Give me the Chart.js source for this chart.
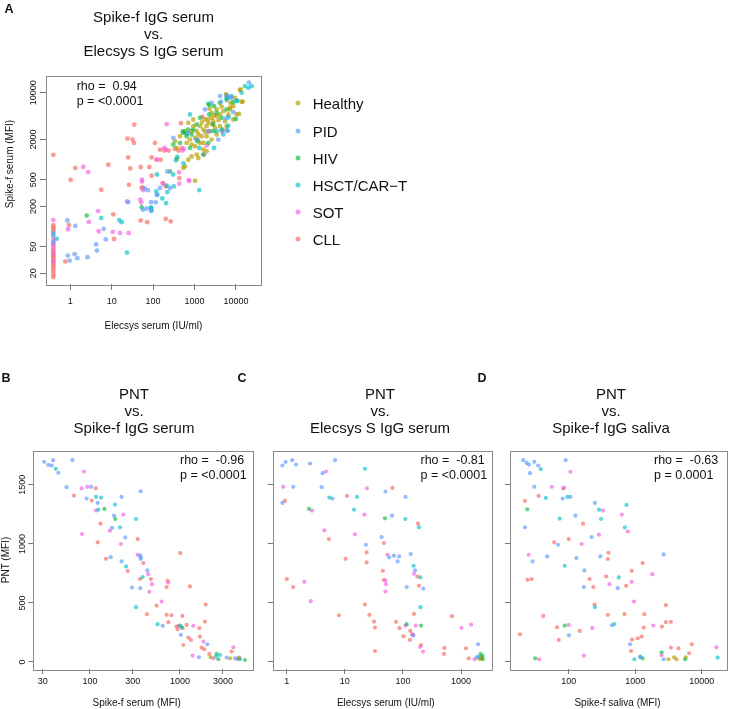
<!DOCTYPE html>
<html>
<head>
<meta charset="utf-8">
<script src="https://cdn.jsdelivr.net/npm/chart.js@4.4.1/dist/chart.umd.min.js"></script>
<style>
  html, body { margin: 0; padding: 0; background: #fff; }
  #page { position: relative; width: 729px; height: 709px; overflow: hidden;
          font-family: "Liberation Sans", Arial, Helvetica, sans-serif; color: #111; }
  #page canvas { position: absolute; left: 0; top: 0; }
  .c { position: absolute; white-space: pre; line-height: 1; transform: translate(-50%, -50%); }
  .lt { position: absolute; white-space: pre; line-height: 1; transform: translate(0, -50%); }
  .r { position: absolute; white-space: pre; line-height: 1; transform: translate(-50%, -50%) rotate(-90deg); }
  .title { font-size: 15px; }
  .ann { font-size: 12.5px; }
  .lab { font-size: 10px; }
  .leg { font-size: 15px; }
  .letter { font-size: 12.5px; font-weight: bold; }
  .dot { position: absolute; width: 5px; height: 5px; border-radius: 50%; transform: translate(-50%, -50%); }
</style>
</head>
<body>
<div id="page">
  <canvas id="pA" width="729" height="709"></canvas>
  <canvas id="pB" width="729" height="709"></canvas>
  <canvas id="pC" width="729" height="709"></canvas>
  <canvas id="pD" width="729" height="709"></canvas>

  <div class="c letter" style="left:9px;top:9px">A</div>
  <div class="c letter" style="left:6px;top:378px">B</div>
  <div class="c letter" style="left:242px;top:378px">C</div>
  <div class="c letter" style="left:482px;top:378px">D</div>

  <div class="c title" style="left:153.5px;top:16px">Spike-f IgG serum</div>
  <div class="c title" style="left:153.5px;top:33px">vs.</div>
  <div class="c title" style="left:153.5px;top:50px">Elecsys S IgG serum</div>

  <div class="c title" style="left:134px;top:393px">PNT</div>
  <div class="c title" style="left:134px;top:410px">vs.</div>
  <div class="c title" style="left:134px;top:427px">Spike-f IgG serum</div>

  <div class="c title" style="left:380px;top:393px">PNT</div>
  <div class="c title" style="left:380px;top:410px">vs.</div>
  <div class="c title" style="left:380px;top:427px">Elecsys S IgG serum</div>

  <div class="c title" style="left:611px;top:393px">PNT</div>
  <div class="c title" style="left:611px;top:410px">vs.</div>
  <div class="c title" style="left:611px;top:427px">Spike-f IgG saliva</div>

  <div class="lt ann" style="left:76.7px;top:86px">rho =  0.94</div>
  <div class="lt ann" style="left:76.7px;top:101px">p = &lt;0.0001</div>
  <div class="lt ann" style="left:180px;top:460px">rho =  -0.96</div>
  <div class="lt ann" style="left:180px;top:475px">p = &lt;0.0001</div>
  <div class="lt ann" style="left:420.5px;top:460px">rho =  -0.81</div>
  <div class="lt ann" style="left:420.5px;top:475px">p = &lt;0.0001</div>
  <div class="lt ann" style="left:654px;top:460px">rho =  -0.63</div>
  <div class="lt ann" style="left:654px;top:475px">p = 0.0001</div>

  <div class="c lab" style="left:153.4px;top:326px">Elecsys serum (IU/ml)</div>
  <div class="r lab" style="left:10px;top:164px">Spike-f serum (MFI)</div>
  <div class="r lab" style="left:6px;top:560px">PNT (MFI)</div>
  <div class="c lab" style="left:136.7px;top:703px">Spike-f serum (MFI)</div>
  <div class="c lab" style="left:385.8px;top:703px">Elecsys serum (IU/ml)</div>
  <div class="c lab" style="left:617.5px;top:703px">Spike-f saliva (MFI)</div>

  <div id="legend"></div>
</div>

<script>
// group order as in the legend
const groupNames = ['Healthy', 'PID', 'HIV', 'HSCT/CAR\u2212T', 'SOT', 'CLL'];
const groupColors = ['rgba(183,159,0,0.68)', 'rgba(97,156,255,0.68)', 'rgba(0,186,56,0.62)',
                     'rgba(0,191,196,0.64)', 'rgba(245,100,227,0.68)', 'rgba(248,118,109,0.72)'];

// tick values
const aXTicks = [1, 10, 100, 1000, 10000];
const aYTicks = [20, 50, 200, 500, 2000, 10000];
const bXTicks = [30, 100, 300, 1000, 3000];
const cXTicks = [1, 10, 100, 1000];
const dXTicks = [100, 1000, 10000];
const pntTicks = [0, 500, 1000, 1500];

// ---- A: Spike-f serum (y) vs Elecsys serum (x) ----
const A_Healthy = [[5750,9460],[12500,11000],[13700,7350],[8650,6320],[7190,5640],[4960,5320],[4120,4740],[3430,4480],
  [2590,4230],[2850,3770],[2150,3560],[1960,3170],[1630,2820],[1360,3170],[1130,2670],[1240,2380],[1490,2240],
  [1960,2240],[2360,2670],[3120,2990],[4120,3170],[5440,3770],[6550,4740],[3430,5640],[2590,5020],[1790,3990],
  [935,3170],[853,2670],[1030,2120],[777,2000],[646,1780],[853,1680],[1030,1590],[1360,1780],[1630,1420],
  [1960,1340],[1130,1190],[853,1120],[708,1000],[589,796],[536,752],[935,3990],[708,3560],[589,2670],[446,2240],
  [370,1500],[337,1890],[380,1030],[1240,1060],[1630,1780],[2590,2000],[3430,2380],[4780,2820],[5970,3170],
  [8650,3990],[10400,4740],[7460,7100],[9490,8430],[13000,11300],[14600,7400],[5950,9330],[7260,6080],
  [11800,4840],[1030,484],[2100,4000],[2700,3400],[1500,3600],[3800,3900],[2300,5800],[4500,6200],[1800,2600],
  [1200,2000],[3000,4600]];
const A_PID = [[0.39,80],[0.39,58],[0.85,123],[1.32,102],[0.87,36.7],[1.28,38.5],[1.48,33.6],[0.97,30.9],[2.6,34.8],
  [4.2,54],[4.4,43.6],[6.4,92],[7.2,64],[25,231],[63,373],[75,350],[57,178],[70,186],[90,231],[116,230],[124,298],
  [147,378],[256,377],[92,174],[221,667],[1790,5640],[2590,7100],[4120,8930],[5970,9140],[7190,8630],
  [20700,14200],[3760,2000],[5970,2730],[708,2520],[308,2120],[1130,2000],[2150,2670],[4370,7400],[7600,8400],
  [8700,5130],[5790,4150]];
const A_HIV = [[2.5,146],[53,193],[256,667],[2150,6850],[2960,6320],[4120,7100],[5970,7780],[8650,7260],[3430,5020],
  [4520,4230],[2260,4740],[1360,4230],[935,2820],[708,2820],[536,2520],[646,2240],[777,1500],[446,1780],
  [308,1680],[1170,1890],[2850,3360],[5970,5640],[2150,1780],[1630,1190],[2850,2670],[853,2380],[1130,3360],
  [2290,6600],[6100,8400],[10000,4070],[520,2650],[645,2430]];
const A_HSCT = [[0.39,75],[0.47,65.5],[5.6,134],[15.3,125],[17.4,116],[23.4,40.7],[124,600],[119,335],[90,189],
  [90,172],[305,600],[213,410],[318,398],[126,298],[221,328],[167,263],[205,224],[89,193],[1300,351],[777,4740],
  [6530,3230],[6380,2720],[6660,4310],[10900,7670],[5970,8430],[7880,8930],[10400,7520],[13750,10020],
  [16550,12620],[19900,11900],[24000,12600],[4520,2820],[3430,2670],[4960,2380],[2960,1500],[1300,1500],
  [385,1100],[355,980],[540,880]];
const A_SOT = [[0.39,125],[0.39,68],[0.39,62],[0.39,55],[0.39,48],[0.39,40],[0.39,30],[2.06,777],[2.7,653],
  [4.85,85],[10.6,83],[15.9,80],[25.7,80],[4.7,170],[2.8,117],[0.88,91],[23.4,237],[49,253],[52,228],[54,501],
  [54,470],[58,350],[122,1000],[213,3400],[176,438],[430,438],[750,484],[422,645],[2140,2620],[1970,1630],
  [187,1500],[205,1410],[510,1370],[560,1450],[720,490],[1700,1190],[4560,2650]];
const A_CLL = [[0.39,1180],[0.39,105],[0.39,98],[0.39,92],[0.39,86],[0.39,52],[0.39,45],[0.39,42],[0.39,38],
  [0.39,36],[0.39,34],[0.39,32],[0.39,29],[0.39,27],[0.39,25],[0.39,23],[0.39,21],[0.39,19],[0.39,17.5],
  [1.32,750],[1.02,500],[5.6,355],[8.3,840],[10.9,152],[11.4,65],[0.76,30],[0.93,105],[24,2070],[32,2000],
  [34.5,1780],[35,3350],[25,1080],[28,740],[26,420],[50,777],[81,777],[56,385],[92,1080],[92,575],[111,1780],
  [123,1000],[153,1000],[147,1410],[187,1370],[238,1370],[335,1450],[410,1370],[490,1500],[470,3510],
  [1560,4370],[170,446],[430,531],[50,123],[72,116],[202,130],[266,119],[202,398],[53,377]];

// ---- B: PNT vs Spike-f serum ----
const B_Healthy = [[2193,40],[3600,31],[4450,31]];
const B_PID = [[31,1695],[34.5,1670],[37.6,1664],[39,1709],[44.6,1602],[64,1709],[55,1480],[103,1483],[92,1384],
  [122,1347],[225,1398],[185,1239],[366,1446],[176,1135],[247,1055],[360,903],[368,886],[366,872],[170,888],
  [225,852],[434,775],[293,631],[363,625],[643,306],[1026,229],[1626,40],[2014,150],[3300,37],[4090,31]];
const B_HIV = [[145,1296],[191,1211],[1009,308],[2560,68],[2670,23],[5280,17]];
const B_HSCT = [[41.7,1636],[117,1398],[133,1392],[124,1290],[190,1333],[325,1211],[216,1140],[252,809],
  [385,719],[325,464],[565,320],[1045,294],[2518,48],[2790,59],[4650,23]];
const B_SOT = [[86,1613],[81,1471],[93.5,1483],[117,1282],[235,1248],[167,1112],[81.5,1084],[221,999],[339,908],
  [444,744],[489,659],[743,673],[457,594],[626,512],[959,306],[1406,306],[1383,54],[1828,173],[2350,31],
  [3920,125],[4340,25]];
const B_CLL = [[116,1471],[66.5,1409],[105,1367],[131,1171],[122,1013],[339,1041],[151,874],[392,838],[263,770],
  [360,702],[476,702],[730,688],[711,634],[1010,922],[1290,640],[551,478],[430,405],[1930,487],[711,399],
  [805,396],[1065,390],[743,337],[918,300],[942,277],[1070,286],[1186,314],[1089,144],[1240,207],[1325,187],
  [1667,215],[1640,286],[1862,108],[1743,122],[1897,342],[2118,68],[3750,88],[4570,37]];

// ---- C: PNT vs Elecsys serum ----
const C_Healthy = [[2270,31],[2100,23],[2200,40]];
const C_PID = [[0.84,1664],[0.955,1695],[1.24,1709],[1.44,1672],[2.51,1681],[6.76,1709],[4.15,1599],[1.29,1483],
  [4.0,1480],[50,1443],[0.84,1347],[6.1,1384],[111,1398],[64.8,1239],[43,1058],[23,993],[58,886],[70,900],
  [86,894],[81,852],[136,914],[161,775],[224,622],[116,634],[149,226],[1963,150],[1862,40]];
const C_HIV = [[2.41,1296],[49,1217],[116,320],[205,308],[2180,68],[2360,23],[2360,51]];
const C_HSCT = [[22.2,1636],[16.2,1398],[5.4,1392],[14.4,1290],[110,1211],[189,1140],[153,815],[200,716],
  [200,464],[1990,45]];
const C_SOT = [[4.73,1613],[0.87,1483],[24,1471],[2.72,1282],[21.7,1248],[4.44,1115],[14.9,1081],[54,908],
  [155,747],[50,690],[2.0,679],[51,659],[50,597],[2.58,515],[111,308],[166,308],[1016,289],[1490,317],[151,229],
  [197,127],[222,88],[1720,23]];
const C_CLL = [[66,1474],[0.93,1364],[10.9,1406],[182,1171],[5.3,1041],[47,1007],[23.7,928],[10.3,874],[23.7,843],
  [177,724],[45,772],[47,696],[1.0,702],[1.29,634],[189,645],[22.2,487],[155,407],[7.9,396],[26.4,399],[700,388],
  [31.8,342],[76,340],[33,291],[87,286],[134,263],[144,235],[102,218],[132,187],[205,144],[33,93],[518,119],
  [510,68],[1220,116],[1356,31]];

// ---- D: PNT vs Spike-f saliva ----
const D_Healthy = [[3160,23],[3850,40],[4180,23],[5750,40]];
const D_PID = [[20.7,1709],[23.3,1686],[25.2,1672],[30.3,1695],[34.8,1664],[90,1709],[26.1,1599],[30.3,1483],
  [81,1384],[106,1398],[126,1239],[248,1347],[22,1140],[221,1058],[69,993],[28.6,852],[47.5,894],[130,880],
  [298,894],[2670,911],[172,775],[169,634],[547,625],[445,311],[101,226],[836,150],[2670,23],[1190,40]];
const D_HIV = [[23.8,1293],[87,308],[31.3,31],[1295,31],[2490,82],[5620,23]];
const D_HSCT = [[38.1,1633],[45.3,1389],[95.5,1398],[73,1214],[285,1290],[305,1211],[738,1330],[697,1140],
  [87,815],[566,716],[248,464],[482,320],[970,23],[1190,45],[17340,37]];
const D_SOT = [[106,1610],[55.7,1483],[85,1477],[327,1282],[628,1248],[773,1106],[285,1078],[156,999],[25,908],
  [1807,744],[885,679],[410,659],[960,512],[100,314],[226,286],[1867,308],[169,54],[36,23],[2490,57],[16560,125]];
const D_CLL = [[83,1469],[22,1364],[35.2,1406],[164,1171],[60.4,1013],[100,1041],[396,925],[387,872],[1293,838],
  [885,772],[366,724],[24.1,696],[27.7,702],[206,702],[234,634],[730,645],[2890,481],[1370,405],[245,487],
  [41.3,390],[387,399],[689,405],[66.8,294],[146,263],[1340,291],[2520,300],[2890,337],[3435,340],[18.5,235],
  [70.8,187],[896,190],[1090,201],[1250,215],[865,93],[3435,122],[4470,116],[6460,74],[7080,150]];

const FONT = '"Liberation Sans", Arial, Helvetica, sans-serif';
const AX = 30; // fixed axis band size

const boxPlugin = {
  id: 'box',
  afterDatasetsDraw(chart) {
    const { ctx, chartArea: a } = chart;
    ctx.save();
    ctx.strokeStyle = '#8a8a8a';
    ctx.lineWidth = 1;
    ctx.strokeRect(Math.round(a.left) + 0.5, Math.round(a.top) + 0.5,
                   Math.round(a.right - a.left), Math.round(a.bottom - a.top));
    ctx.restore();
  }
};

function axis(type, min, max, ticks, o) {
  return {
    type, min, max,
    afterBuildTicks: s => { s.ticks = ticks.map(v => ({ value: v })); },
    afterFit: s => { if (s.isHorizontal()) s.height = AX; else s.width = AX; },
    border: { display: false },
    grid: { drawOnChartArea: false, drawTicks: true, tickLength: o.tl, color: '#777', lineWidth: 1 },
    ticks: {
      display: o.labels, autoSkip: false, padding: o.pad,
      minRotation: o.rot, maxRotation: o.rot, crossAlign: o.rot ? 'center' : 'near',
      font: { family: FONT, size: 9 }, color: '#111',
      callback: v => String(v)
    }
  };
}

function makePanel(id, p) {
  const W = 729, H = 709;
  const order = [1, 3, 2, 0, 4, 5];
  const datasets = order.map(i => ({
    label: groupNames[i],
    data: p.series[i].map(([x, y]) => ({ x, y })),
    backgroundColor: groupColors[i],
    borderWidth: 0,
    pointRadius: p.radius,
    pointHoverRadius: p.radius,
    clip: false
  }));
  new Chart(document.getElementById(id), {
    type: 'scatter',
    data: { datasets },
    options: {
      responsive: false,
      animation: false,
      events: [],
      layout: { padding: { left: p.box.l - AX, top: p.box.t, right: W - p.box.r, bottom: H - p.box.b - AX } },
      plugins: { legend: { display: false }, tooltip: { enabled: false } },
      scales: { x: p.x, y: p.y }
    },
    plugins: [boxPlugin]
  });
}

makePanel('pA', {
  box: { l: 46, t: 75.5, r: 260.7, b: 284 },
  radius: 2.4,
  series: [A_Healthy, A_PID, A_HIV, A_HSCT, A_SOT, A_CLL],
  x: axis('logarithmic', 0.259, 39700, aXTicks, { tl: 6, pad: 6.6, labels: true, rot: 0 }),
  y: axis('logarithmic', 13.8, 18170, aYTicks, { tl: 6, pad: -5.8, labels: true, rot: 90 })
});
makePanel('pB', {
  box: { l: 33.3, t: 450.5, r: 253.3, b: 669 },
  radius: 2.1,
  series: [B_Healthy, B_PID, B_HIV, B_HSCT, B_SOT, B_CLL],
  x: axis('logarithmic', 23.5, 6530, bXTicks, { tl: 5, pad: 2.6, labels: true, rot: 0 }),
  y: axis('linear', -59.4, 1791, pntTicks, { tl: 5, pad: -4.4, labels: true, rot: 90 })
});
makePanel('pC', {
  box: { l: 272.7, t: 450.5, r: 491.7, b: 669 },
  radius: 2.1,
  series: [C_Healthy, C_PID, C_HIV, C_HSCT, C_SOT, C_CLL],
  x: axis('logarithmic', 0.572, 3377, cXTicks, { tl: 5, pad: 2.6, labels: true, rot: 0 }),
  y: axis('linear', -59.4, 1791, pntTicks, { tl: 5, pad: 0, labels: false, rot: 90 })
});
makePanel('pD', {
  box: { l: 510, t: 450.5, r: 728, b: 669 },
  radius: 2.1,
  series: [D_Healthy, D_PID, D_HIV, D_HSCT, D_SOT, D_CLL],
  x: axis('logarithmic', 13.1, 23880, dXTicks, { tl: 5, pad: 2.6, labels: true, rot: 0 }),
  y: axis('linear', -59.4, 1791, pntTicks, { tl: 5, pad: 0, labels: false, rot: 90 })
});

// legend for panel A
const legendY = [103.3, 130.7, 157.7, 185, 212.3, 239.3];
const legend = document.getElementById('legend');
groupNames.forEach((name, i) => {
  const d = document.createElement('div');
  d.className = 'dot';
  d.style.left = '298.3px'; d.style.top = legendY[i] + 'px';
  d.style.background = groupColors[i];
  legend.appendChild(d);
  const t = document.createElement('div');
  t.className = 'lt leg';
  t.style.left = '312.7px'; t.style.top = legendY[i] + 'px';
  t.textContent = name;
  legend.appendChild(t);
});
</script>
</body>
</html>
